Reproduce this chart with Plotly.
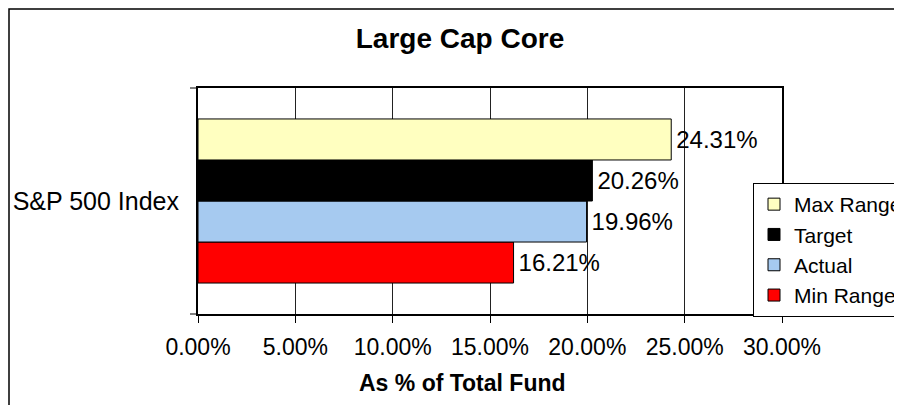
import plotly.graph_objects as go

categories = ["S&P 500 Index"]
series_names = ["Min Range", "Actual", "Target", "Max Range"]
series_values = {
    "Min Range": [16.21],
    "Actual": [19.96],
    "Target": [20.26],
    "Max Range": [24.31],
}
series_colors = {
    "Min Range": "#FF0000",
    "Actual": "#A6CAF0",
    "Target": "#000000",
    "Max Range": "#FFFFC0",
}
legend_rank = {"Max Range": 1, "Target": 2, "Actual": 3, "Min Range": 4}
x_ticks = [0, 5, 10, 15, 20, 25, 30]
x_tick_labels = ["0.00%", "5.00%", "10.00%", "15.00%", "20.00%", "25.00%", "30.00%"]
chart_title = "Large Cap Core"
x_title = "As % of Total Fund"

FONT = "Liberation Sans, Arial, sans-serif"

fig = go.Figure()
for name in series_names:
    fig.add_trace(go.Bar(
        y=categories,
        x=series_values[name],
        orientation="h",
        name=name,
        legendgroup=name,
        legendrank=legend_rank[name],
        marker=dict(color=series_colors[name], line=dict(color="#000000", width=1)),
        text=[f"\u200a{v:.2f}%" for v in series_values[name]],
        textposition="outside",
        textfont=dict(family=FONT, size=24, color="#000000"),
        constraintext="none",
        cliponaxis=False,
    ))

W, H = 902, 405
OFF = 8  # page body margin
# desired plot area in screen pixels
PX0, PX1, PY0, PY1 = 198, 782, 88, 314
ml, mt = PX0 - OFF, PY0 - OFF
mr = W + OFF - PX1
mb = H + OFF - PY1
pw, ph = PX1 - PX0, PY1 - PY0

def sx(px):
    return (px - PX0) / pw

def sy(py):
    return (PY1 - py) / ph

shapes = [
    dict(type="rect", xref="paper", yref="paper",
         x0=sx(9), x1=sx(930), y0=sy(430), y1=sy(9),
         line=dict(color="#000000", width=1.5), layer="below"),
    dict(type="line", xref="paper", yref="paper",
         x0=sx(190), x1=0, y0=0, y1=0, line=dict(color="#000000", width=1)),
    dict(type="line", xref="paper", yref="paper",
         x0=sx(190), x1=0, y0=1, y1=1, line=dict(color="#000000", width=1)),
]

fig.update_layout(
    width=W, height=H,
    margin=dict(l=ml, r=mr, t=mt, b=mb, autoexpand=False),
    paper_bgcolor="white", plot_bgcolor="white",
    font=dict(family=FONT, color="#000000"),
    barmode="group", bargap=0.274, bargroupgap=0,
    title=dict(text=f"<b>{chart_title}</b>", x=(460 - OFF) / W, xref="container",
               xanchor="center", y=1 - (38 - OFF) / H, yref="container", yanchor="middle",
               font=dict(family=FONT, size=28, color="#000000")),
    xaxis=dict(range=[0, 30], tickvals=x_ticks, ticktext=x_tick_labels,
               showgrid=True, gridcolor="#222222", gridwidth=1,
               showline=True, linecolor="#000000", linewidth=2, mirror=True,
               ticks="outside", ticklen=7, tickcolor="#000000",
               tickfont=dict(family=FONT, size=23, color="#000000"),
               ticklabelstandoff=4, zeroline=False, fixedrange=True),
    yaxis=dict(showline=True, linecolor="#000000", linewidth=2, mirror=True,
               ticks="", showgrid=False, ticklabelstandoff=12,
               tickfont=dict(family=FONT, size=25, color="#000000"),
               fixedrange=True),
    legend=dict(x=sx(753), y=sy(183), xanchor="left", yanchor="top",
                traceorder="normal", tracegroupgap=14,
                bordercolor="#000000", borderwidth=1, bgcolor="white",
                font=dict(family=FONT, size=21, color="#000000")),
    shapes=shapes,
    annotations=[dict(text=f"<b>{x_title}</b>", xref="paper", yref="paper",
                      x=sx(462), y=sy(383), xanchor="center", yanchor="middle",
                      showarrow=False, font=dict(family=FONT, size=23, color="#000000"))],
)

fig.write_html("out.html")
